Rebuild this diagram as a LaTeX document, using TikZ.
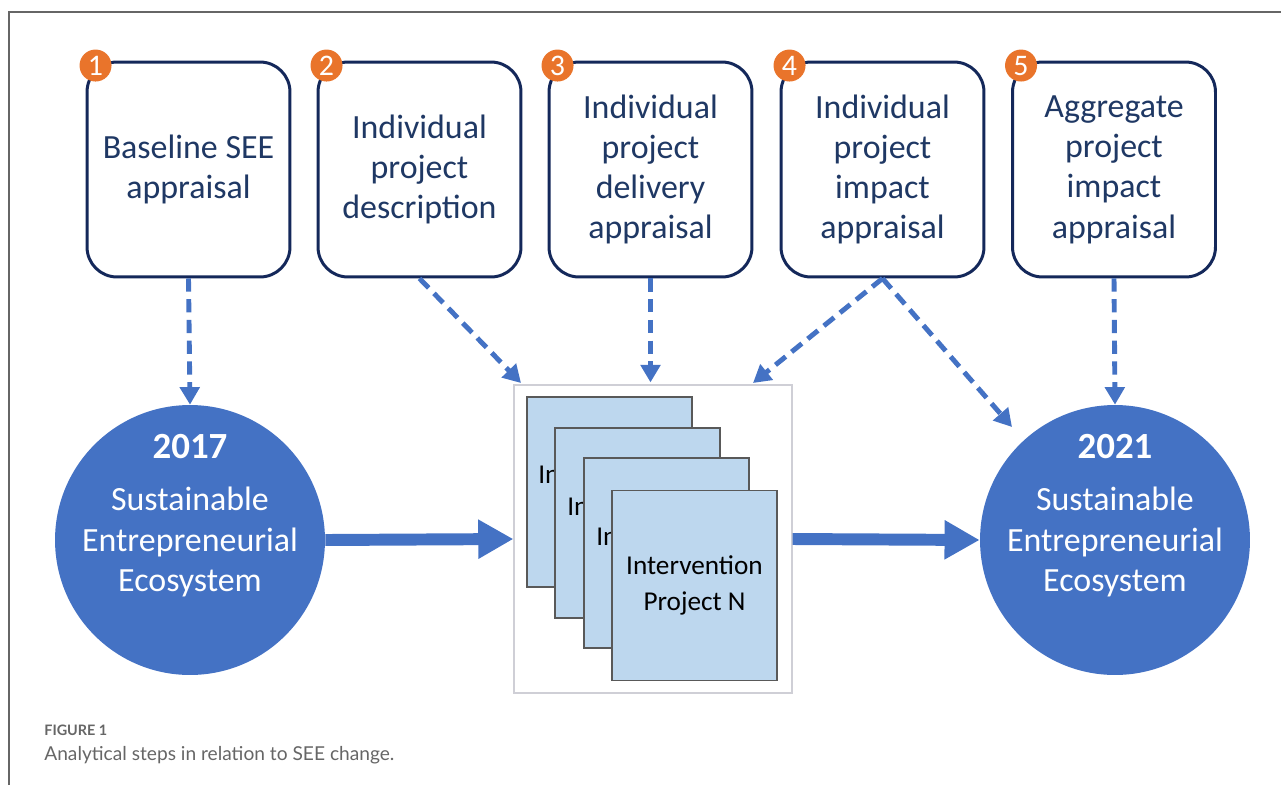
\documentclass[tikz,border=0pt]{standalone}
\usepackage{fontspec}
\setmainfont{Carlito}
\newfontfamily\capfont{Lato}
\usetikzlibrary{arrows.meta}
\definecolor{navy}{HTML}{14285A}
\definecolor{navytext}{HTML}{1F3864}
\definecolor{accent}{HTML}{4472C4}
\definecolor{badgeor}{HTML}{E9742B}
\definecolor{cardfill}{HTML}{BDD7EE}
\definecolor{cardline}{HTML}{595959}
\definecolor{framegray}{HTML}{CFCFD6}
\definecolor{capgray}{HTML}{666666}
\tikzset{
  stepbox/.style={draw=navy, line width=1.7pt, rounded corners=0.6cm, fill=white,
    minimum width=4.06cm, minimum height=4.3cm, align=center, text=navytext,
    font=\fontsize{19.3pt}{22.9pt}\selectfont, inner sep=0pt},
  badge/.style={circle, fill=badgeor, text=white, minimum size=0.64cm, inner sep=0pt,
    font=\fontsize{17pt}{17pt}\selectfont},
  bigcirc/.style={circle, fill=accent, minimum size=5.4cm, inner sep=0pt},
  circtext/.style={align=center, text=white, font=\fontsize{19.3pt}{23.2pt}\selectfont},
  card/.style={draw=cardline, line width=0.9pt, fill=cardfill, minimum width=3.3cm,
    minimum height=3.8cm, inner sep=0pt},
  cardtext/.style={align=center, font=\fontsize{15.5pt}{20.4pt}\selectfont, inner sep=0pt},
  dasharrow/.style={draw=accent, line width=2.8pt, dash pattern=on 7.5pt off 4.3pt,
    -{Triangle[length=10pt,width=11pt]}},
  bigarrow/.style={draw=accent, line width=6.8pt, -{Triangle[length=20pt,width=21pt]}},
}
\begin{document}
\begin{tikzpicture}[x=0.02cm,y=-0.02cm]
\useasboundingbox (0,0) rectangle (1281,785);
\draw[capgray, line width=0.8pt] (9,785) -- (9,12) -- (1281,12);

% top boxes
\node[stepbox] (b1) at (188.5,169.5) {Baseline SEE\\appraisal};
\node[stepbox] (b2) at (419.5,169.5) {Individual\\project\\description};
\node[stepbox] (b3) at (650.5,169.5) {Individual\\project\\delivery\\appraisal};
\node[stepbox] (b4) at (882.5,169.5) {Individual\\project\\impact\\appraisal};
\node[stepbox] (b5) at (1114,169.5) {Aggregate\\project\\impact\\appraisal};
\foreach \i in {1,...,5}{
  \node[badge] (n\i) at ([xshift=0.2cm,yshift=-0.1cm]b\i.north west) {\i};
}

% circles
\node[bigcirc] (c1) at (190,540) {};
\node[bigcirc] (c2) at (1115,540) {};
\node[circtext] (t1) at (190,516) {{\fontsize{21pt}{24pt}\selectfont\bfseries 2017}\\[6pt]Sustainable\\Entrepreneurial\\Ecosystem};
\node[circtext] (t2) at (1115,516) {{\fontsize{21pt}{24pt}\selectfont\bfseries 2021}\\[6pt]Sustainable\\Entrepreneurial\\Ecosystem};

% project stack
\node[draw=framegray, line width=0.7pt, minimum width=5.56cm, minimum height=6.16cm] (frame) at (653,539) {};
\node[card] (p1) at (609.5,492) {};
\node[cardtext, anchor=west] (p1t) at (538,475) {In};
\node[card] (p2) at (637.5,523) {};
\node[cardtext, anchor=west] (p2t) at (567,507) {In};
\node[card] (p3) at (666.5,553) {};
\node[cardtext, anchor=west] (p3t) at (596,537) {In};
\node[card] (p4) at (694.5,585.5) {};
\node[cardtext] (p4t) at (694.5,585) {Intervention\\Project N};

% connectors
\coordinate (f2) at (521,383);
\coordinate (f4) at (753,383);
\coordinate (c2in) at (1012,427);
\draw[dasharrow] (b1.south) -- (c1.north);
\draw[dasharrow] (b2.south) -- (f2);
\draw[dasharrow] (b3.south) -- ([yshift=0.04cm]frame.north -| b3.south);
\draw[dasharrow] (b4.south) -- (f4);
\draw[dasharrow] (b4.south) -- (c2in);
\draw[dasharrow] (b5.south) -- (c2.north);
\draw[bigarrow] (c1.east) -- (frame.west);
\draw[bigarrow] (frame.east) -- (c2.west);

% caption
\node[anchor=base west, inner sep=0pt, text=capgray, font=\capfont\fontsize{8.2pt}{9pt}\selectfont\bfseries] (fig) at (44,735) {FIGURE 1};
\node[anchor=base west, inner sep=0pt, text=capgray, font=\capfont\fontsize{10.9pt}{13pt}\selectfont] (cap) at (44,760) {Analytical steps in relation to SEE change.};
\end{tikzpicture}
\end{document}
